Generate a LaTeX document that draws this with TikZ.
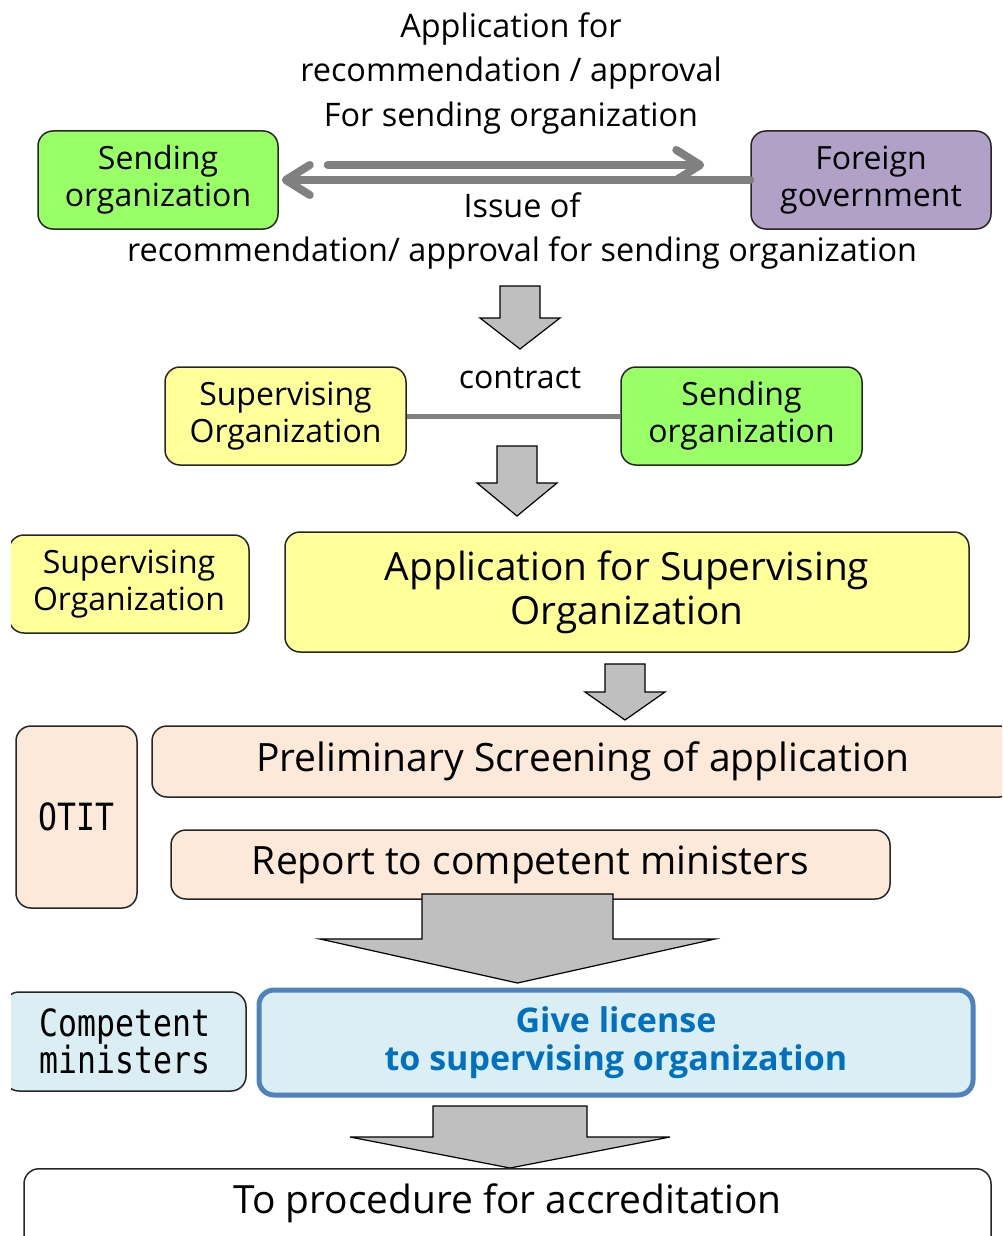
\documentclass[tikz,border=0pt]{standalone}
\usepackage{fontspec}
\setmainfont{Open Sans}
\newfontfamily\monof[FakeStretch=0.84]{DejaVu Sans Mono}
\usetikzlibrary{arrows.meta}
\definecolor{sgreen}{HTML}{99FF66}
\definecolor{fpurple}{HTML}{B2A1C7}
\definecolor{syellow}{HTML}{FFFF99}
\definecolor{speach}{HTML}{FDE9D9}
\definecolor{sblue}{HTML}{DAEEF3}
\definecolor{bborder}{HTML}{4F81BD}
\definecolor{btext}{HTML}{0070C0}
\definecolor{lgray}{HTML}{808080}
\definecolor{agray}{HTML}{BFBFBF}
\newcommand\fsz[2]{\fontsize{#1pt}{#2pt}\selectfont}
\newcommand\blockarr[6]{%
  \draw[blockarrow] ({#1-#3},#2) -- ({#1+#3},#2) -- ({#1+#3},#4) -- ({#1+#5},#4)
    -- (#1,#6) -- ({#1-#5},#4) -- ({#1-#3},#4) -- cycle;}
\begin{document}
\begin{tikzpicture}[x=1pt,y=-1pt,
  box/.style={draw=black!85, line width=1.5pt, rounded corners=15pt, align=center, inner sep=0pt},
  lbl/.style={align=center, inner sep=0pt},
  gline/.style={draw=lgray, line width=8pt, line cap=round},
  blockarrow/.style={draw=black, line width=1.2pt, fill=agray, line join=miter}]
\useasboundingbox (0,0) rectangle (1002,1236);
\clip (0,0) rectangle (1002,1236);

% top section
\node[lbl, font=\fsz{32.4}{44.5}] (toplbl) at (511,73) {Application for\\recommendation / approval\\For sending organization};
\node[box, fill=sgreen, minimum width=240pt, minimum height=98pt, font=\fsz{32}{37}] (send1) at (158,180) {Sending\\organization};
\node[box, fill=fpurple, minimum width=240pt, minimum height=98pt, font=\fsz{32}{37}] (foreign) at (871,180) {Foreign\\government};
\draw[gline, shorten <=49pt, shorten >=46pt, -{Straight Barb[length=24pt,width=30pt,round]}]
  ([yshift=15pt]send1.east) -- ([yshift=15pt]foreign.west);
\draw[gline, shorten >=3pt, -{Straight Barb[length=24pt,width=30pt,round]}]
  (foreign.west) -- (send1.east);
\node[lbl, font=\fsz{32.4}{44}] (issue) at (522,231) {Issue of\\recommendation/ approval for sending organization};

\blockarr{520}{286}{20}{318}{40}{349}

% contract section
\node[box, fill=syellow, minimum width=241pt, minimum height=98pt, font=\fsz{32}{37}] (sup1) at (285.5,416) {Supervising\\Organization};
\node[box, fill=sgreen, minimum width=241pt, minimum height=98pt, font=\fsz{32}{37}] (send2) at (741.5,416) {Sending\\organization};
\draw[draw=lgray, line width=5pt] (sup1.east) -- (send2.west);
\node[lbl, font=\fsz{32}{37}] (contract) at (520,378) {contract};

\blockarr{517}{446}{20}{483}{40}{516}

% application
\begin{scope}
\clip (11,0) rectangle (1002,1236);
\node[box, fill=syellow, minimum width=240pt, minimum height=98pt, font=\fsz{32}{37}] (sup2) at (129,584) {Supervising\\Organization};
\node[box, fill=sblue, minimum width=242pt, minimum height=99pt, font=\monof\fsz{37.5}{36}] (compmin) at (125,1041.5) {Competent\\ministers};
\end{scope}
\node[box, fill=syellow, minimum width=684pt, minimum height=120pt, font=\fsz{38.8}{44}] (appsup) at (627,592) {Application for Supervising\\Organization};

\blockarr{625}{664}{20}{692}{40}{720}

% OTIT
\node[box, fill=speach, minimum width=121pt, minimum height=182pt, font=\monof\fsz{37.5}{40}] (otit) at (76.5,817) {OTIT};
\node[box, fill=speach, minimum width=862pt, minimum height=71pt, font=\fsz{39}{44}] (prelim) at (583,761.5) {Preliminary Screening of application};
\node[box, fill=speach, minimum width=719pt, minimum height=69pt, font=\fsz{39}{44}] (report) at (530.5,864.5) {Report to competent ministers};

\blockarr{517.5}{894}{95.5}{939}{197.5}{983}

% license
\node[box, draw=bborder, line width=5pt, fill=sblue, minimum width=714pt, minimum height=105pt, font=\bfseries\fsz{34}{38}, text=btext] (license) at (616,1042.5) {Give license\\to supervising organization};

\blockarr{510}{1106}{77}{1137}{160}{1168}

\node[box, fill=white, anchor=north, minimum width=967pt, inner ysep=18pt, text height=27pt, text depth=50pt, font=\fsz{38.9}{44}] (proc) at (507.5,1168) {To procedure for accreditation};
\end{tikzpicture}
\end{document}
